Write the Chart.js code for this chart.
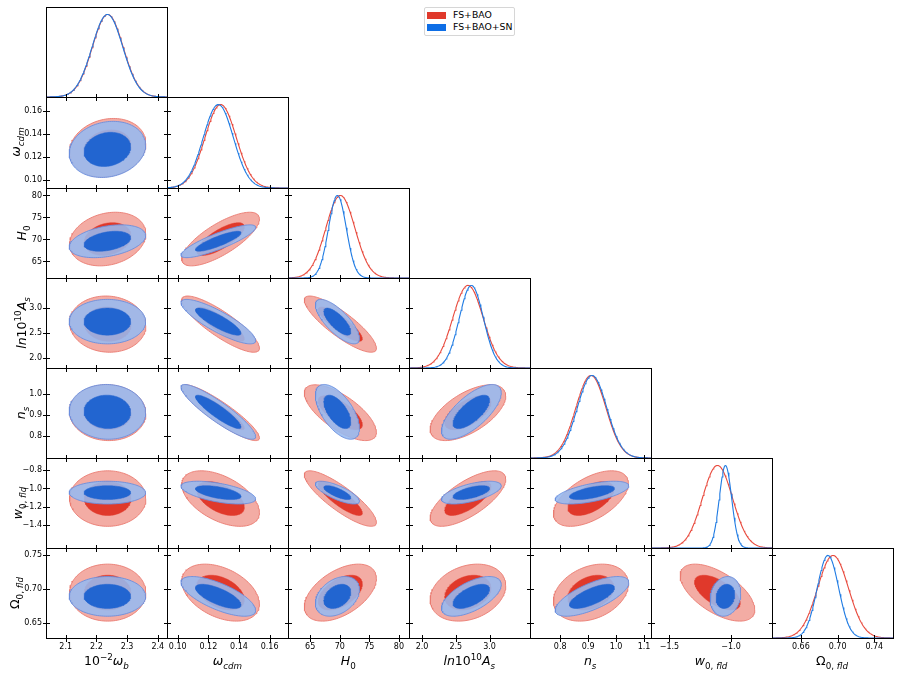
<!DOCTYPE html>
<html lang="en">
<head>
<meta charset="UTF-8">
<title>FS+BAO triangle plot</title>
<script src="https://cdn.jsdelivr.net/npm/chart.js@4.4.1/dist/chart.umd.min.js"></script>
<style>
  body { margin: 0; background: #fff; font-family: "DejaVu Sans", sans-serif; }
  #fig { position: relative; width: 900px; height: 676px; overflow: hidden; }
  #fig canvas { position: absolute; }
  .xl, .yl { position: absolute; font-size: 12.5px; line-height: 14px; color: #000; white-space: nowrap; }
  .xl { transform: translateX(-50%); }
  .yl { transform: translate(-50%, -50%) rotate(-90deg); }
  sub, sup { font-size: 70%; line-height: 0; }
  .legend { position: absolute; left: 424px; top: 7px; width: 89px; height: 27px; border: 1px solid #d6d6d6; border-radius: 2px; font-size: 9.3px; }
  .legend div { position: absolute; left: 2px; height: 12px; line-height: 12px; }
  .legend span { display: inline-block; width: 19px; height: 7px; margin-right: 7px; vertical-align: -1px; }
</style>
</head>
<body>
<div id="fig">
  <div class="legend">
    <div style="top:1px"><span style="background:#e0392b"></span>FS+BAO</div>
    <div style="top:13px"><span style="background:#0e6ee6"></span>FS+BAO+SN</div>
  </div>
</div>
<script>
// parameters: 10^-2 w_b, w_cdm, H0, ln10^10 A_s, n_s, w0_fld, Omega0_fld
var labels = [
  '10<sup>\u22122</sup><i>\u03c9</i><sub><i>b</i></sub>',
  '<i>\u03c9</i><sub><i>cdm</i></sub>',
  '<i>H</i><sub>0</sub>',
  '<i>ln</i>10<sup>10</sup><i>A</i><sub><i>s</i></sub>',
  '<i>n</i><sub><i>s</i></sub>',
  '<i>w</i><sub>0, <i>fld</i></sub>',
  '\u03a9<sub>0, <i>fld</i></sub>'
];
var axisMin = [2.036, 0.093, 61.25, 1.807, 0.692, -1.65, 0.6285];
var axisMax = [2.430, 0.172, 81.7, 3.598, 1.125, -0.667, 0.7604];

var xTicks = [[2.1, 2.2, 2.3, 2.4], [0.10, 0.12, 0.14, 0.16], [65, 70, 75, 80], [2.0, 2.5, 3.0],
              [0.8, 0.9, 1.0, 1.1], [-1.5, -1.0], [0.66, 0.70, 0.74]];
var xTickText = [['2.1', '2.2', '2.3', '2.4'], ['0.10', '0.12', '0.14', '0.16'], ['65', '70', '75', '80'],
                 ['2.0', '2.5', '3.0'], ['0.8', '0.9', '1.0', '1.1'], ['\u22121.5', '\u22121.0'], ['0.66', '0.70', '0.74']];
var yTicks = [[], [0.10, 0.12, 0.14, 0.16], [65, 70, 75, 80], [2.0, 2.5, 3.0], [0.8, 0.9, 1.0],
              [-1.4, -1.2, -1.0, -0.8], [0.65, 0.70, 0.75]];
var yTickText = [[], ['0.10', '0.12', '0.14', '0.16'], ['65', '70', '75', '80'], ['2.0', '2.5', '3.0'],
                 ['0.8', '0.9', '1.0'], ['\u22121.4', '\u22121.2', '\u22121.0', '\u22120.8'], ['0.65', '0.70', '0.75']];

// FS+BAO
var meanBAO  = [2.237, 0.128, 70.1, 2.68, 0.910, -1.11, 0.695];
var sigmaBAO = [0.050, 0.0102, 2.45, 0.225, 0.054, 0.122, 0.0168];
var corrBAO = [
  [],
  [0.15],
  [0.2, 0.75],
  [-0.05, -0.85, -0.85],
  [-0.03, -0.9, -0.7, 0.6],
  [0.0, -0.5, -0.85, 0.7, 0.55],
  [0.0, -0.4, 0.5, 0.25, 0.3, -0.6]
];
// FS+BAO+SN
var meanSN  = [2.236, 0.1265, 69.6, 2.73, 0.914, -1.045, 0.6895];
var sigmaSN = [0.050, 0.0098, 1.5, 0.178, 0.053, 0.050, 0.0117];
var corrSN = [
  [],
  [0.15],
  [0.35, 0.85],
  [0.0, -0.85, -0.75],
  [-0.03, -0.9, -0.6, 0.7],
  [0.0, -0.55, -0.75, 0.6, 0.6],
  [0.0, -0.7, 0.35, 0.6, 0.7, 0.15]
];

var K68 = Math.sqrt(2.30), K95 = Math.sqrt(6.18);
var yLabelX = [0, 16, 21.7, 21.7, 20.8, 17.5, 14.5];

function colEdge(k) { return 46 + 120.93 * k; }
function rowEdge(k) { return 7.3 + 90.1 * k; }

function ellipse(mx, my, sx, sy, r, k) {
  var pts = [];
  for (var n = 0; n <= 120; n++) {
    var t = 2 * Math.PI * n / 120, u = Math.cos(t), v = Math.sin(t);
    pts.push({x: mx + k * sx * u, y: my + k * sy * (r * u + Math.sqrt(1 - r * r) * v)});
  }
  return pts;
}
function gauss(m, s, lo, hi) {
  var pts = [];
  for (var n = 0; n <= 160; n++) {
    var x = lo + (hi - lo) * n / 160;
    pts.push({x: x, y: Math.exp(-0.5 * (x - m) * (x - m) / (s * s))});
  }
  return pts;
}

// frame and in-out tick marks
var framePlugin = {
  id: 'frame',
  afterDraw: function(chart, args, opts) {
    var a = chart.chartArea, c = chart.ctx;
    c.save();
    c.strokeStyle = '#000';
    c.lineWidth = 1;
    c.strokeRect(a.left + 0.5, a.top + 0.5, a.right - a.left, a.bottom - a.top);
    c.beginPath();
    var sx = chart.scales.x;
    sx.ticks.forEach(function(t) {
      var px = Math.round(sx.getPixelForValue(t.value)) + 0.5;
      c.moveTo(px, a.bottom - 3); c.lineTo(px, a.bottom + 4);
    });
    if (opts.yTicks) {
      var sy = chart.scales.y;
      sy.ticks.forEach(function(t) {
        var py = Math.round(sy.getPixelForValue(t.value)) + 0.5;
        c.moveTo(a.left - 3, py); c.lineTo(a.left + 4, py);
      });
    }
    c.stroke();
    c.restore();
  }
};

var fig = document.getElementById('fig');
var tickFont = {family: 'DejaVu Sans', size: 8};

function fixSize(s, isX) {
  if (isX) { s.height = 24; s.paddingLeft = 0; s.paddingRight = 0; }
  else { s.width = 46; s.paddingTop = 0; s.paddingBottom = 0; }
}

function makeAxis(p, vals, txt, showLabels, isX) {
  return {
    type: 'linear', min: axisMin[p], max: axisMax[p],
    afterBuildTicks: function(s) { s.ticks = vals.map(function(v) { return {value: v}; }); },
    afterFit: function(s) { fixSize(s, isX); },
    ticks: {display: showLabels, font: tickFont, color: '#000', padding: 4, autoSkip: false, maxRotation: 0,
            callback: function(v, i) { return txt[i]; }},
    grid: {display: false, drawTicks: false},
    border: {display: false}
  };
}

for (var i = 0; i < 7; i++) {
  for (var j = 0; j <= i; j++) {
    var L = Math.round(colEdge(j)), R = Math.round(colEdge(j + 1));
    var T = Math.round(rowEdge(i)), B = Math.round(rowEdge(i + 1));
    var cv = document.createElement('canvas');
    var w = R - L + 46 + 3, h = B - T + 3 + 24;
    cv.width = w; cv.height = h;
    cv.style.left = (L - 46) + 'px'; cv.style.top = (T - 3) + 'px';
    cv.style.width = w + 'px'; cv.style.height = h + 'px';
    fig.appendChild(cv);

    var scales = {x: makeAxis(j, xTicks[j], xTickText[j], i === 6, true)};
    var datasets;
    if (i === j) {
      var yid = 'y';
      if (i === 0) {
        scales.y = {type: 'linear', min: 0, max: 1.09, afterFit: function(s) { fixSize(s, false); },
                    ticks: {display: false}, grid: {display: false, drawTicks: false}, border: {display: false}};
      } else {
        scales.y = makeAxis(i, yTicks[i], yTickText[i], false, false);
        scales.yd = {type: 'linear', min: 0, max: 1.09, display: false};
        yid = 'yd';
      }
      datasets = [
        {data: gauss(meanSN[i], sigmaSN[i], axisMin[i], axisMax[i]), yAxisID: yid, borderColor: '#1f7be3', borderWidth: 1.1, fill: false},
        {data: gauss(meanBAO[i], sigmaBAO[i], axisMin[i], axisMax[i]), yAxisID: yid, borderColor: '#e8493c', borderWidth: 1.1, fill: false}
      ];
    } else {
      scales.y = makeAxis(i, yTicks[i], yTickText[i], j === 0, false);
      var rb = corrBAO[i][j], rs = corrSN[i][j];
      datasets = [
        {data: ellipse(meanSN[j], meanSN[i], sigmaSN[j], sigmaSN[i], rs, K68), fill: 'shape',
         backgroundColor: '#2265d0', borderColor: '#2265d0', borderWidth: 0.5},
        {data: ellipse(meanSN[j], meanSN[i], sigmaSN[j], sigmaSN[i], rs, K95), fill: 'shape',
         backgroundColor: 'rgba(150,185,240,0.88)', borderColor: '#6a8ddd', borderWidth: 0.9},
        {data: ellipse(meanBAO[j], meanBAO[i], sigmaBAO[j], sigmaBAO[i], rb, K68), fill: 'shape',
         backgroundColor: '#e0392b', borderColor: '#e0392b', borderWidth: 0.5},
        {data: ellipse(meanBAO[j], meanBAO[i], sigmaBAO[j], sigmaBAO[i], rb, K95), fill: 'shape',
         backgroundColor: '#f3aca4', borderColor: '#ea7a70', borderWidth: 0.9}
      ];
    }

    new Chart(cv, {
      type: 'line',
      data: {datasets: datasets},
      options: {
        responsive: false, animation: false, events: [],
        layout: {padding: {top: 3, right: 3, left: 0, bottom: 0}},
        plugins: {legend: {display: false}, tooltip: {enabled: false}, frame: {yTicks: i > 0}},
        elements: {point: {radius: 0}, line: {tension: 0}},
        scales: scales
      },
      plugins: [framePlugin]
    });
  }
}

// axis titles
for (var k = 0; k < 7; k++) {
  var d = document.createElement('div');
  d.className = 'xl';
  d.innerHTML = labels[k];
  d.style.left = ((colEdge(k) + colEdge(k + 1)) / 2) + 'px';
  d.style.top = '654px';
  fig.appendChild(d);
  if (k > 0) {
    var e = document.createElement('div');
    e.className = 'yl';
    e.innerHTML = labels[k];
    e.style.left = yLabelX[k] + 'px';
    e.style.top = ((rowEdge(k) + rowEdge(k + 1)) / 2) + 'px';
    fig.appendChild(e);
  }
}
</script>
</body>
</html>
